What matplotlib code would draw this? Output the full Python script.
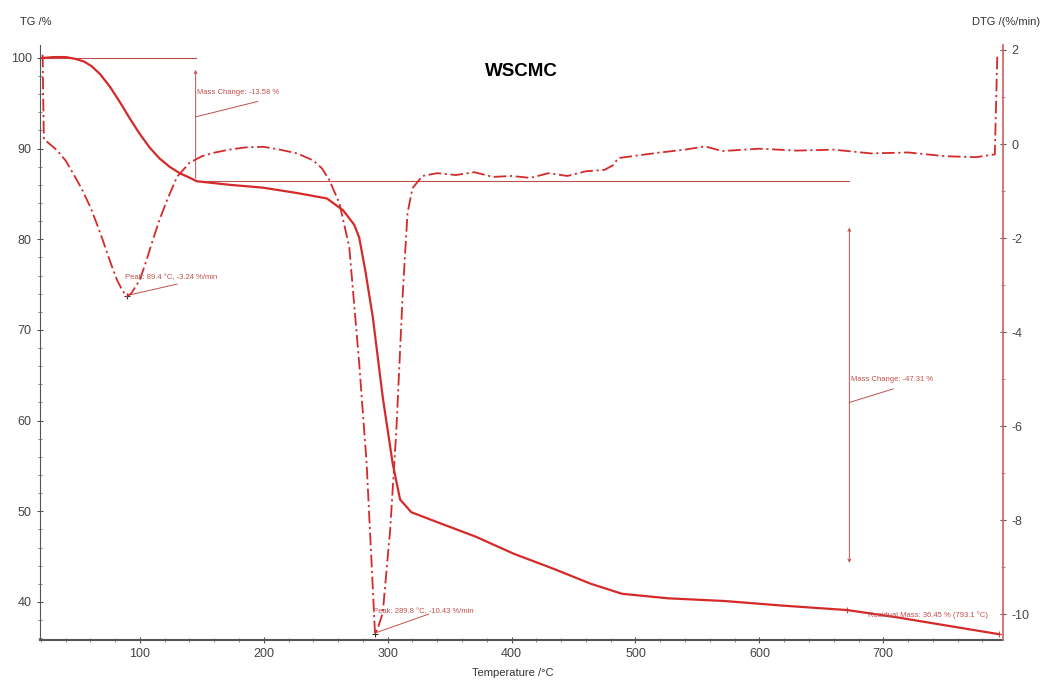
import matplotlib
matplotlib.use("Agg")
import matplotlib.pyplot as plt
from matplotlib.ticker import MultipleLocator

plt.rcParams["axes.unicode_minus"] = False
plt.rcParams["font.family"] = ["Liberation Sans", "DejaVu Sans"]

# ---- data ----
tg_temp = [21, 31, 40, 48, 55, 61, 68, 76, 84, 92, 100, 108, 116, 124, 132, 140, 146,
           173, 199, 227, 251, 264, 273, 277, 282, 288, 296, 304, 310, 319, 340, 371,
           402, 433, 464, 489, 526, 572, 618, 671, 711, 742, 793]
tg_mass = [100, 100.1, 100.1, 99.9, 99.6, 99.1, 98.2, 96.8, 95.1, 93.3, 91.6, 90.1, 88.9,
           88.0, 87.3, 86.8, 86.4, 86.0, 85.7, 85.1, 84.5, 83.2, 81.6, 80.2, 76.5, 71.4,
           62.6, 55.3, 51.3, 49.9, 48.8, 47.2, 45.3, 43.7, 42.0, 40.9, 40.4, 40.1, 39.6,
           39.1, 38.3, 37.6, 36.45]

dtg_temp = [21.5, 22.5, 25, 33, 40, 46, 53, 60, 65, 70, 76, 81.5, 86, 89.4, 93, 100, 105,
            110.5, 116, 122, 130, 140, 150, 159, 172, 186, 200, 213, 227, 240, 247, 253,
            261, 269, 277, 283, 287, 289.8, 292, 296, 302, 307, 312, 316, 320, 328, 340,
            355, 370, 385, 400, 415, 430, 445, 460, 475, 482, 486, 500, 520, 540, 556, 570,
            600, 630, 660, 690, 720, 750, 775, 790, 792]
dtg_rate = [1.9, 0.1, 0.05, -0.13, -0.35, -0.62, -0.95, -1.34, -1.68, -2.04, -2.50, -2.89,
            -3.12, -3.24, -3.18, -2.89, -2.50, -2.04, -1.60, -1.19, -0.70, -0.40, -0.26,
            -0.19, -0.12, -0.07, -0.06, -0.12, -0.20, -0.35, -0.52, -0.77, -1.26, -2.19,
            -4.66, -6.79, -8.91, -10.43, -10.3, -9.98, -8.21, -6.09, -3.26, -1.47, -0.94,
            -0.68, -0.62, -0.66, -0.60, -0.70, -0.68, -0.72, -0.62, -0.68, -0.58, -0.55,
            -0.45, -0.30, -0.25, -0.18, -0.12, -0.05, -0.15, -0.10, -0.14, -0.12, -0.20,
            -0.18, -0.26, -0.28, -0.22, 1.9]

title = "WSCMC"
ylabel_left = "TG /%"
ylabel_right = "DTG /(%/min)"
xlabel = "Temperature /°C"
x_ticks = [100, 200, 300, 400, 500, 600, 700]
tg_ticks = [40, 50, 60, 70, 80, 90, 100]
dtg_ticks = [2, 0, -2, -4, -6, -8, -10]

mass_change_1 = "Mass Change: -13.58 %"
mass_change_2 = "Mass Change: -47.31 %"
peak_1 = "Peak: 89.4 °C, -3.24 %/min"
peak_2 = "Peak: 289.8 °C, -10.43 %/min"
residual = "Residual Mass: 36.45 % (793.1 °C)"

RED = "#d42a2a"
ANN = "#c0504d"

fig = plt.figure(figsize=(10.45, 6.8), dpi=100)
ax = fig.add_axes([40/1045, 1-640/680, (1003-40)/1045, (640-45)/680])
ax2 = ax.twinx()

ax.set_xlim(19.4, 796.6)
ax.set_ylim(35.8, 101.43)
ax2.set_ylim(-10.55, 2.106)

ax.plot(tg_temp, tg_mass, color=RED, lw=1.6, zorder=3, solid_joinstyle="round")
ax2.plot(dtg_temp, dtg_rate, color=RED, lw=1.3, linestyle=(0, (7, 2, 1.2, 2)), zorder=3)

# annotations (TG)
ax.plot([21, 145], [100, 100], color=ANN, lw=0.8)
ax.plot([145, 672.6], [86.42, 86.42], color=ANN, lw=0.8)
ax.annotate("", xy=(145, 99.0), xytext=(145, 86.42),
            arrowprops=dict(arrowstyle="->", color=ANN, lw=0.7, mutation_scale=5))
ax.annotate("", xy=(672.6, 81.6), xytext=(672.6, 44.0),
            arrowprops=dict(arrowstyle="<->", color=ANN, lw=0.7, mutation_scale=5))
ax.plot([145, 195], [93.5, 95.2], color=ANN, lw=0.7)
ax.text(146, 96.2, mass_change_1, color=ANN, fontsize=5.5, va="center")
ax.plot([672.6, 708], [62.0, 63.5], color=ANN, lw=0.7)
ax.text(674, 64.5, mass_change_2, color=ANN, fontsize=5.5, va="center")
ax.plot([671], [39.1], marker="+", color=ANN, ms=5, mew=0.8)
ax.plot([793], [36.45], marker="+", color=ANN, ms=5, mew=0.8)
ax.text(688, 38.5, residual, color=ANN, fontsize=5.5, va="center")

# annotations (DTG)
ax2.plot([89.4], [-3.24], marker="+", color="#333333", ms=5, mew=0.8)
ax2.plot([90, 130], [-3.22, -2.98], color=ANN, lw=0.7)
ax2.text(88, -2.85, peak_1, color=ANN, fontsize=5.5, va="center")
ax2.plot([289.8], [-10.43], marker="+", color="#333333", ms=5, mew=0.8)
ax2.plot([290, 333], [-10.4, -10.0], color=ANN, lw=0.7)
ax2.text(288, -9.95, peak_2, color=ANN, fontsize=5.5, va="center")

ax.text(0.5, 0.955, title, transform=ax.transAxes, ha="center", va="center",
        fontsize=13.5, fontweight="bold", color="black")

# axes styling
for a in (ax, ax2):
    a.spines["top"].set_visible(False)
ax.spines["right"].set_visible(False)
ax2.spines["left"].set_visible(False)
ax2.spines["bottom"].set_visible(False)
ax.spines["left"].set_color("#555555")
ax.spines["bottom"].set_color("#555555")
ax.spines["bottom"].set_linewidth(1.5)
ax2.spines["right"].set_color("#d06a6a")
ax2.spines["right"].set_linewidth(1.3)

ax.set_xticks(x_ticks)
ax.xaxis.set_minor_locator(MultipleLocator(20))
ax.set_yticks(tg_ticks)
ax.yaxis.set_minor_locator(MultipleLocator(2))
ax2.set_yticks(dtg_ticks)
ax2.yaxis.set_minor_locator(MultipleLocator(1))

ax.tick_params(axis="both", which="major", direction="inout", length=5, width=0.8,
               colors="#555555", labelsize=9, labelcolor="#444444")
ax.tick_params(axis="both", which="minor", direction="inout", length=3, width=0.6,
               colors="#777777")
ax2.tick_params(axis="y", which="major", direction="inout", length=5, width=0.8,
                colors="#555555", labelsize=9, labelcolor="#444444")
ax2.tick_params(axis="y", which="minor", direction="inout", length=3, width=0.6,
                colors="#777777")

fig.text(20/1045, 1-22/680, ylabel_left, fontsize=8, color="#333333", va="center")
fig.text(1040/1045, 1-22/680, ylabel_right, fontsize=8, color="#333333", va="center",
         ha="right")
fig.text(513/1045, 1-673/680, xlabel, fontsize=8, color="#333333", va="center",
         ha="center")

fig.savefig("out.png", dpi=100)
